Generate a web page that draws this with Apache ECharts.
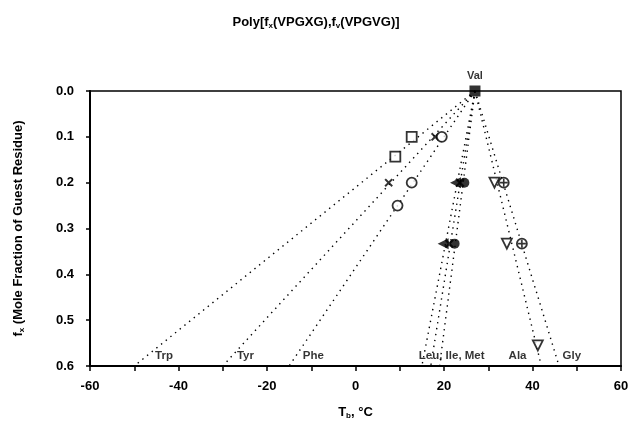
<!DOCTYPE html>
<html>
<head>
<meta charset="utf-8">
<script src="https://cdn.jsdelivr.net/npm/echarts@6/dist/echarts.min.js"></script>
<style>
html,body{margin:0;padding:0;background:#fff;}
#container{width:632px;height:427px;}
</style>
</head>
<body>
<div id="container"></div>
<script>
// Val reference point (apex of all lines)
var valPoint = [27, 0];
// lines from Val to the intercept at f_x = 0.6
var lineNames = ['Trp', 'Tyr', 'Phe', 'Leu', 'Ile', 'Met', 'Ala', 'Gly'];
var lineEndX = [-50, -30, -15, 15, 17, 19, 42, 46];
var lineEndY = 0.6;

// measured points [Tb, fx]
var trpPts = [[12.7, 0.1], [9, 0.143]];
var tyrPts = [[18, 0.1], [7.5, 0.2]];
var phePts = [[19.5, 0.1], [12.7, 0.2], [9.5, 0.25]];
var leuPts = [[22.6, 0.2], [19.8, 0.333]];
var ilePts = [[23.6, 0.2], [21.2, 0.333]];
var metPts = [[24.6, 0.2], [22.4, 0.333]];
var alaPts = [[31.4, 0.2], [34.2, 0.333], [41.2, 0.555]];
var glyPts = [[33.5, 0.2], [37.6, 0.333]];

// text labels along the bottom
var labelText = ['Trp', 'Tyr', 'Phe', 'Leu, Ile, Met', 'Ala', 'Gly'];
var labelX = [-45.3, -26.8, -11.9, 14.3, 34.6, 46.8];
var labelY = 0.578;

var plusPath = 'path://M4,0 H6 V4 H10 V6 H6 V10 H4 V6 H0 V4 H4 Z';
var font = 'Liberation Sans';

function drawChart(){
	var dom = document.getElementById('container');
	var myChart = echarts.init(dom);
	var series = [];

	// dotted lines
	for (var i = 0; i < lineNames.length; i++) {
		series.push({
			type: 'line',
			name: lineNames[i],
			data: [valPoint, [lineEndX[i], lineEndY]],
			symbol: 'none',
			silent: true,
			lineStyle: {color: '#000', width: 1.4, type: [1.4, 4.6]},
			z: 1
		});
	}

	function pts(data, symbol, size, fill, rotate, bw){
		return {
			type: 'scatter',
			data: data,
			symbol: symbol,
			symbolSize: size,
			symbolRotate: rotate || 0,
			clip: false,
			itemStyle: {color: fill, borderColor: '#000', borderWidth: bw === undefined ? 1.8 : bw},
			z: 3
		};
	}

	series.push(pts(trpPts, 'rect', 10, '#fff'));
	series.push(pts(tyrPts, plusPath, 10, '#000', 45, 0));
	series.push(pts(phePts, 'circle', 10, '#fff'));
	series.push(pts(leuPts, 'triangle', 11, '#000', 90, 0));
	series.push(pts(ilePts, plusPath, 11, '#000', 45, 0));
	series.push(pts(metPts, 'circle', 10, '#000', 0, 0));
	series.push(pts(alaPts, 'triangle', 10, '#fff', 180));
	series.push(pts(glyPts, 'circle', 10, '#fff'));
	series.push(pts(glyPts, plusPath, 8, '#000', 0, 0));

	// Val apex
	series.push({
		type: 'scatter',
		data: [valPoint],
		symbol: 'rect',
		symbolSize: 11,
		clip: false,
		itemStyle: {color: '#000'},
		label: {show: true, position: 'top', distance: 4, formatter: 'Val',
			color: '#000', fontFamily: font, fontWeight: 'bold', fontSize: 11},
		z: 4
	});

	// bottom labels
	series.push({
		type: 'scatter',
		symbolSize: 0,
		silent: true,
		data: labelText.map(function (t, i) {
			return {name: t, value: [labelX[i], labelY]};
		}),
		label: {show: true, position: 'right', distance: 0, formatter: '{b}',
			color: '#000', fontFamily: font, fontWeight: 'bold', fontSize: 11.5},
		z: 5
	});

	var subRich = {s: {fontFamily: font, fontWeight: 'bold', fontSize: 8, padding: [7, 0, 0, 0]}};

	var option = {
		backgroundColor: '#fff',
		animation: false,
		title: {
			text: 'Poly[f{s|x}(VPGXG),f{s|v}(VPGVG)]',
			left: 'center',
			top: 10,
			textStyle: {
				color: '#000', fontFamily: font, fontWeight: 'bold', fontSize: 13,
				rich: subRich
			}
		},
		grid: {
			left: 90, right: 11, top: 91, bottom: 61,
			show: true, borderColor: '#000', borderWidth: 1.5
		},
		xAxis: {
			type: 'value',
			position: 'bottom',
			min: -60, max: 60, interval: 10,
			name: 'T{s|b}, °C',
			nameLocation: 'middle',
			nameGap: 39,
			nameTextStyle: {
				color: '#000', fontFamily: font, fontWeight: 'bold', fontSize: 13,
				rich: subRich
			},
			axisLine: {onZero: false, lineStyle: {color: '#000', width: 2}},
			axisTick: {inside: false, length: 5, lineStyle: {color: '#000', width: 1.5}},
			axisLabel: {
				margin: 14, color: '#000', fontFamily: font, fontWeight: 'bold', fontSize: 13,
				formatter: function (v) { return v % 20 === 0 ? String(v) : ''; }
			},
			splitLine: {show: false}
		},
		yAxis: {
			type: 'value',
			position: 'left',
			inverse: true,
			min: 0, max: 0.6, interval: 0.1,
			name: 'f{s|x} (Mole Fraction of Guest Residue)',
			nameLocation: 'middle',
			nameRotate: 90,
			nameGap: 64,
			nameTextStyle: {
				color: '#000', fontFamily: font, fontWeight: 'bold', fontSize: 13,
				rich: subRich
			},
			axisLine: {onZero: false, lineStyle: {color: '#000', width: 2}},
			axisTick: {inside: false, length: 4, lineStyle: {color: '#000', width: 1.5}},
			axisLabel: {
				margin: 16, color: '#000', fontFamily: font, fontWeight: 'bold', fontSize: 13,
				formatter: function (v) { return v.toFixed(1); }
			},
			splitLine: {show: false}
		},
		series: series
	};
	myChart.setOption(option, true);
}

window.onload = drawChart;
</script>
</body>
</html>
